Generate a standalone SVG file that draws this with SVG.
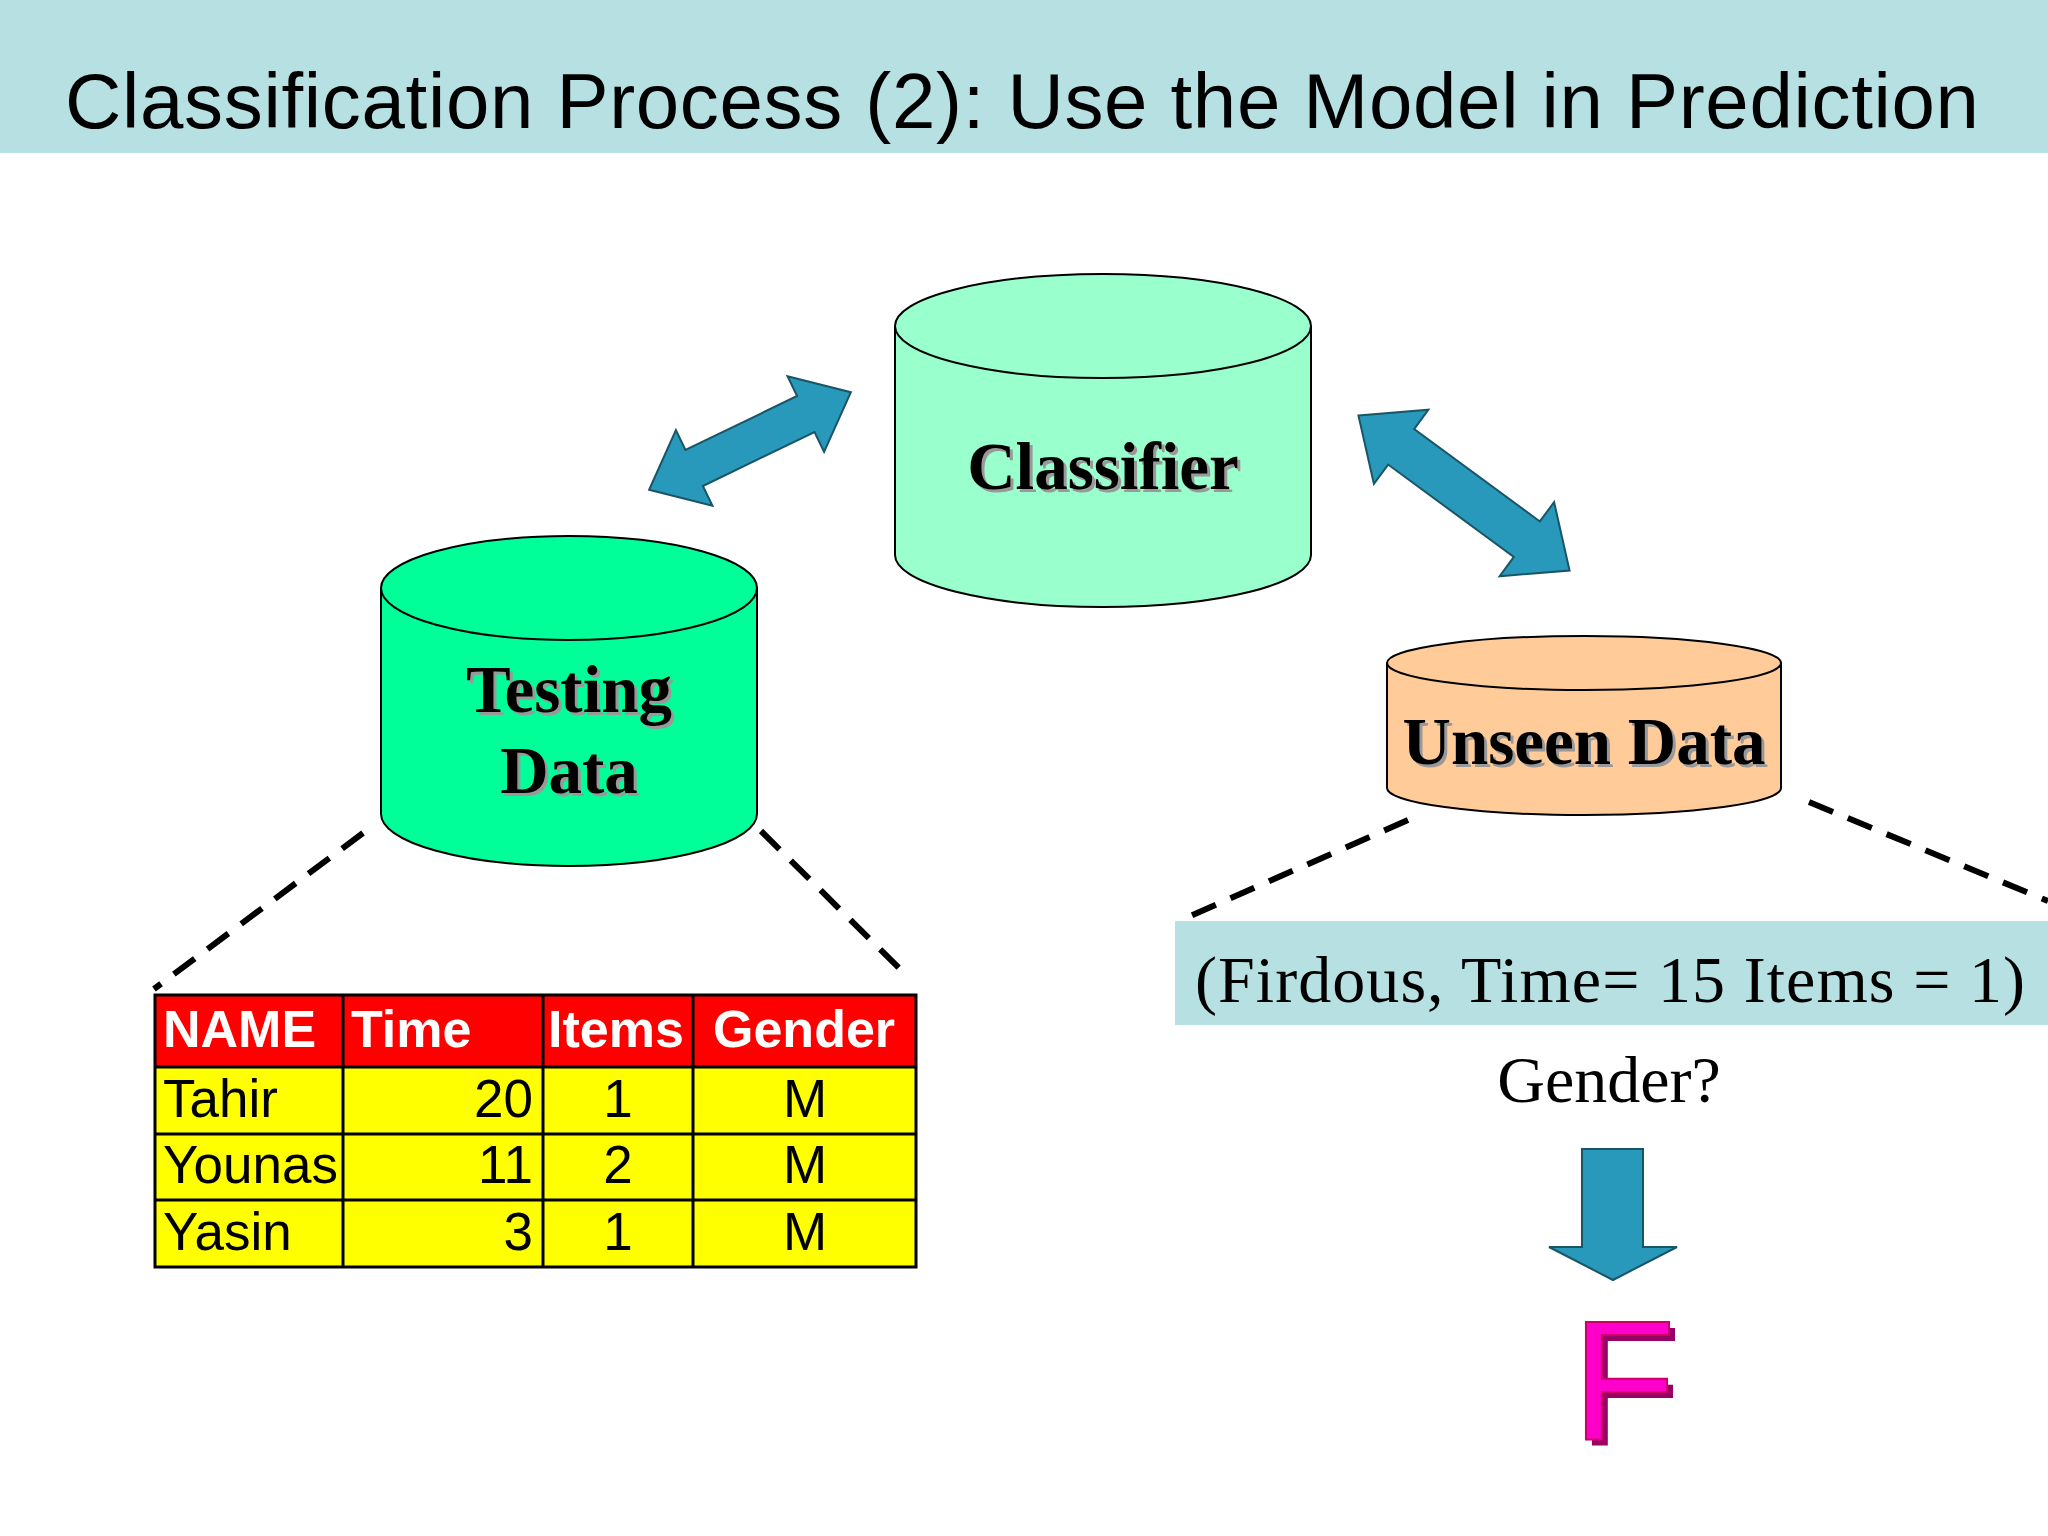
<svg xmlns="http://www.w3.org/2000/svg" width="2048" height="1536" viewBox="0 0 2048 1536">
<style>
.cyl{stroke:#000;stroke-width:2}
.lbl{font-family:"Liberation Serif",serif;font-weight:bold;font-size:67px;text-anchor:middle;fill:#000}
.sh{fill:#999}
.dash{stroke:#000;stroke-width:6;stroke-dasharray:26 16;fill:none}
.arr{fill:#2899BB;stroke:#1a5566;stroke-width:2}
.th{font-family:"Liberation Sans",sans-serif;font-weight:bold;font-size:52px;fill:#fff}
.td{font-family:"Liberation Sans",sans-serif;font-size:53px;fill:#000}
.grid{stroke:#000;stroke-width:3;fill:none}
</style>
<rect width="2048" height="1536" fill="#fff"/>
<rect x="0" y="0" width="2048" height="153" fill="#B7E0E3"/>
<text x="65" y="128" font-family="Liberation Sans, sans-serif" font-size="78" textLength="1914" fill="#000">Classification Process (2): Use the Model in Prediction</text>

<g id="connectors">
<line class="dash" x1="363" y1="833" x2="154" y2="989"/>
<line class="dash" x1="761" y1="831" x2="904" y2="973"/>
<line class="dash" x1="1408" y1="820" x2="1179" y2="921"/>
<line class="dash" x1="1809" y1="802" x2="2048" y2="901"/>
<polygon class="arr" transform="translate(750,441) rotate(-25.8)" points="-112,0 -62,-42 -62,-20 62,-20 62,-42 112,0 62,42 62,20 -62,20 -62,42"/>
<polygon class="arr" transform="translate(1464,493) rotate(36.3)" points="-131,0 -78,-46 -78,-22 78,-22 78,-46 131,0 78,46 78,22 -78,22 -78,46"/>
<polygon class="arr" points="1582,1149 1643,1149 1643,1247 1677,1247 1613,1280 1549,1247 1582,1247"/>
</g>

<g id="classifier">
<path class="cyl" fill="#99FFCC" d="M895,326 V555 A208,52 0 0 0 1311,555 V326"/>
<ellipse class="cyl" fill="#99FFCC" cx="1103" cy="326" rx="208" ry="52"/>
<text class="lbl sh" x="1106" y="492">Classifier</text>
<text class="lbl" x="1103" y="489">Classifier</text>
</g>

<g id="testing">
<path class="cyl" fill="#00FF99" d="M381,588 V814 A188,52 0 0 0 757,814 V588"/>
<ellipse class="cyl" fill="#00FF99" cx="569" cy="588" rx="188" ry="52"/>
<text class="lbl sh" x="572" y="715">Testing</text>
<text class="lbl" x="569" y="712">Testing</text>
<text class="lbl sh" x="572" y="796">Data</text>
<text class="lbl" x="569" y="793">Data</text>
</g>

<g id="unseen">
<path class="cyl" fill="#FFCC99" d="M1387,663 V788 A197,27 0 0 0 1781,788 V663"/>
<ellipse class="cyl" fill="#FFCC99" cx="1584" cy="663" rx="197" ry="27"/>
<text class="lbl sh" x="1587" y="767">Unseen Data</text>
<text class="lbl" x="1584" y="764">Unseen Data</text>
</g>

<g id="table">
<rect x="155" y="995" width="761" height="72" fill="#FF0000"/>
<rect x="155" y="1067" width="761" height="200" fill="#FFFF00"/>
<rect class="grid" x="155" y="995" width="761" height="272"/>
<line class="grid" x1="155" y1="1067" x2="916" y2="1067"/>
<line class="grid" x1="155" y1="1134" x2="916" y2="1134"/>
<line class="grid" x1="155" y1="1200" x2="916" y2="1200"/>
<line class="grid" x1="343" y1="995" x2="343" y2="1267"/>
<line class="grid" x1="543" y1="995" x2="543" y2="1267"/>
<line class="grid" x1="693" y1="995" x2="693" y2="1267"/>
<text class="th" x="163" y="1047">NAME</text>
<text class="th" x="351" y="1047">Time</text>
<text class="th" x="548" y="1047">Items</text>
<text class="th" x="713" y="1047">Gender</text>
<text class="td" x="163" y="1117">Tahir</text>
<text class="td" x="163" y="1183">Younas</text>
<text class="td" x="163" y="1250">Yasin</text>
<text class="td" x="533" y="1117" text-anchor="end">20</text>
<text class="td" x="533" y="1183" text-anchor="end">11</text>
<text class="td" x="533" y="1250" text-anchor="end">3</text>
<text class="td" x="618" y="1117" text-anchor="middle">1</text>
<text class="td" x="618" y="1183" text-anchor="middle">2</text>
<text class="td" x="618" y="1250" text-anchor="middle">1</text>
<text class="td" x="805" y="1117" text-anchor="middle">M</text>
<text class="td" x="805" y="1183" text-anchor="middle">M</text>
<text class="td" x="805" y="1250" text-anchor="middle">M</text>
</g>

<g id="query">
<rect x="1175" y="921" width="873" height="104" fill="#B7E0E3"/>
<text x="1195" y="1002" font-family="Liberation Serif, serif" font-size="66" textLength="830" fill="#000">(Firdous, Time= 15 Items = 1)</text>
<text x="1609" y="1102" font-family="Liberation Serif, serif" font-size="66" text-anchor="middle" fill="#000">Gender?</text>
</g>

<g id="result">
<text x="1578" y="1446" font-family="Liberation Sans, sans-serif" font-size="170" fill="#990066">F</text>
<text x="1572" y="1440" font-family="Liberation Sans, sans-serif" font-size="170" fill="#FF00CC" stroke="#CC0066" stroke-width="2">F</text>
</g>
</svg>
